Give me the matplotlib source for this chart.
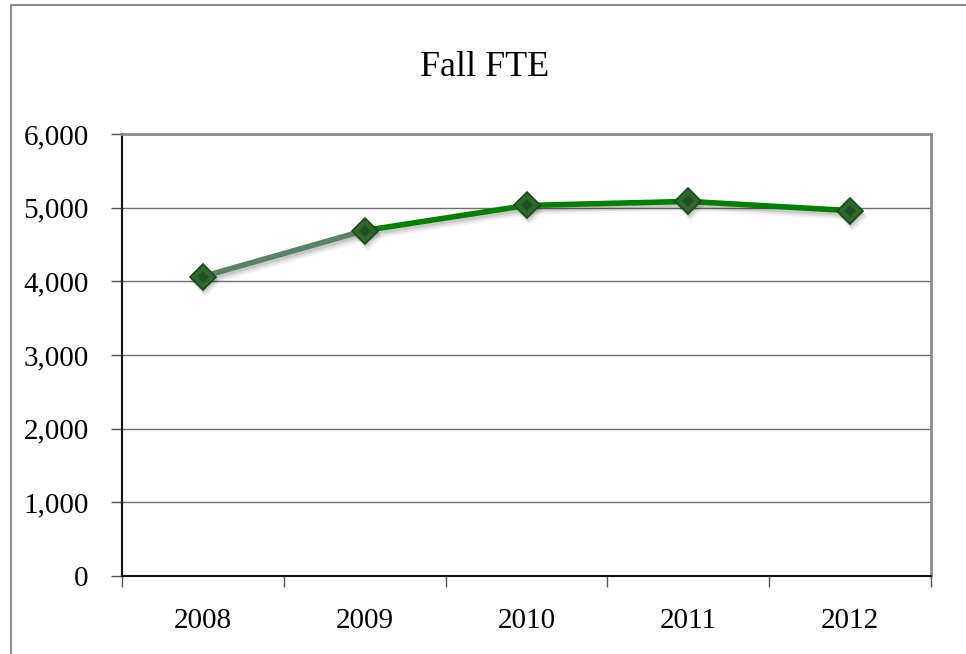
import matplotlib
matplotlib.use("Agg")
import matplotlib.pyplot as plt
import matplotlib.patheffects as pe
import matplotlib.transforms as mtransforms
from matplotlib.patches import Rectangle
import numpy as np

years = ["2008", "2009", "2010", "2011", "2012"]
fte = [4065, 4690, 5030, 5085, 4960]
yticks = [0, 1000, 2000, 3000, 4000, 5000, 6000]
ytick_labels = ["0", "1,000", "2,000", "3,000", "4,000", "5,000", "6,000"]
title = "Fall FTE"

plt.rcParams['font.family'] = ['Liberation Serif', 'DejaVu Serif']

fig = plt.figure(figsize=(9.66, 6.54), dpi=100)
fig.patches.append(Rectangle((11/966, -0.1), 1.2, 1 - 5/654 + 0.1, transform=fig.transFigure,
                             fill=False, edgecolor='#8c8c8c', linewidth=1.5))
ax = fig.add_axes([122/966, 1 - 576/654, (931 - 122)/966, (576 - 134)/654])

x = np.arange(len(years))
ax.set_xlim(-0.5, len(years) - 0.5)
ax.set_ylim(0, 6000)

for yv in yticks[1:-1]:
    ax.axhline(yv, color='#6e6e6e', lw=1.0, zorder=1)

# soft shadow under line and markers
for k, (dx, dy, a) in enumerate([(1, -2, 0.10), (2, -4, 0.08), (3, -6, 0.05)]):
    tr = mtransforms.offset_copy(ax.transData, fig=fig, x=dx, y=dy, units='dots')
    ax.plot(x, fte, color='black', lw=5, alpha=a, transform=tr, zorder=2,
            solid_capstyle='butt', solid_joinstyle='round')
    ax.plot(x, fte, linestyle='none', marker='D', markersize=14, color='black',
            alpha=a, transform=tr, zorder=2, markeredgewidth=0)

seg_colors = ['#5a8268', '#008000', '#008000', '#008000']
for i in range(len(years) - 1):
    ax.plot(x[i:i + 2], fte[i:i + 2], color=seg_colors[i], lw=4, zorder=3,
            solid_capstyle='butt')

ax.plot(x, fte, linestyle='none', marker='D', markersize=13, markerfacecolor='#2c6a2c',
        markeredgecolor='#174a17', markeredgewidth=1.2, zorder=4)
ax.plot(x, fte, linestyle='none', marker='D', markersize=6, markerfacecolor='#234f27',
        markeredgewidth=0, zorder=5)

ax.set_yticks(yticks)
ax.set_yticklabels(ytick_labels, fontsize=21)
ax.set_xticks(x)
ax.set_xticklabels(years, fontsize=21)
ax.set_xticks(np.arange(-0.5, len(years)), minor=True)
ax.tick_params(axis='x', which='major', length=0, pad=23)
ax.tick_params(axis='x', which='minor', length=8, color='#555555', width=1)
ax.tick_params(axis='y', length=8, color='#555555', width=1, pad=16)

ax.spines['left'].set_color('#111111')
ax.spines['bottom'].set_color('#111111')
ax.spines['left'].set_linewidth(1.5)
ax.spines['bottom'].set_linewidth(1.5)
ax.spines['top'].set_color('#8c8c8c')
ax.spines['right'].set_color('#8c8c8c')
ax.spines['top'].set_linewidth(2)
ax.spines['right'].set_linewidth(2)

fig.text(0.5 + 2/966, 1 - 67/654, title, ha='center', va='center', fontsize=26)

fig.savefig("out.png", dpi=100)
